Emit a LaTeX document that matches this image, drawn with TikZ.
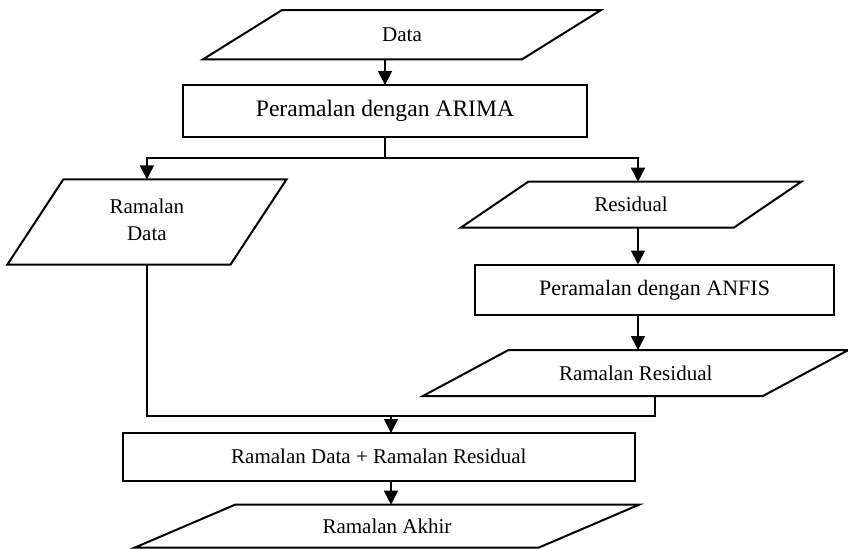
\documentclass[tikz,border=0pt]{standalone}
\usepackage{fontspec}
\setmainfont{Liberation Serif}
\usetikzlibrary{arrows.meta,calc}

% outline of an input/output block: a parallelogram built on the node's box
\newcommand\ioshape[2]{%
  \draw[shapeline] ([xshift=#2]#1.north west) -- ([xshift=#2]#1.north east)
    -- ([xshift=-#2]#1.south east) -- ([xshift=-#2]#1.south west) -- cycle;}

\tikzset{
  base/.style={inner sep=0pt, outer sep=0pt, align=center,
    font=\fontsize{10.5}{13.5}\selectfont},
  procbox/.style={base, draw, line width=1pt},
  iobox/.style={base},
  shapeline/.style={line width=1pt, line join=miter},
  conn/.style={line width=0.85pt},
  arr/.style={conn, -{Triangle[width=7pt,length=7pt]}}
}

\begin{document}
\begin{tikzpicture}[x=0.5pt, y=-0.5pt]
\useasboundingbox (0,0) rectangle (848,548);

% blocks
\node[iobox, minimum width=159.5pt, minimum height=24.65pt] (data) at (402,34.7) {Data};
\node[procbox, minimum width=202.3pt, minimum height=26.15pt,
      font=\fontsize{11.8}{14}\selectfont] (arima) at (385,111.2) {Peramalan dengan ARIMA};
\node[iobox, minimum width=111.6pt, minimum height=42.6pt] (rd) at (146.9,222)
  {\raisebox{3.25pt}{\begin{tabular}{@{}c@{}}Ramalan\\Data\end{tabular}}};
\node[iobox, minimum width=136.5pt, minimum height=23pt] (res) at (631,204.7) {Residual};
\node[procbox, minimum width=179.5pt, minimum height=25.25pt,
      font=\fontsize{11}{13}\selectfont] (anfis) at (654.5,289.75) {Peramalan dengan ANFIS};
\node[iobox, minimum width=170pt, minimum height=23pt] (rr) at (635.7,373) {Ramalan Residual};
\node[procbox, minimum width=256.15pt, minimum height=23.75pt] (sum) at (378.85,456.75) {Ramalan Data + Ramalan Residual};
\node[iobox, minimum width=202pt, minimum height=21.4pt] (akhir) at (387,526.1) {Ramalan Akhir};

\ioshape{data}{19.75pt}
\ioshape{rd}{14pt}
\ioshape{res}{16.9pt}
\ioshape{rr}{21.4pt}
\ioshape{akhir}{25pt}

% junction points of the connectors
\coordinate (split) at (385,158);
\coordinate (colR) at (638,0);
\coordinate (merge) at (391,416);
\coordinate (mergeR) at (655,416);

% connectors
\draw[arr] (data.south -| arima.north) -- (arima.north);
\draw[conn] (arima.south) -- (split);
\draw[arr] (split) -| (rd.north);
\draw[arr] (split) -| (res.north -| colR);
\draw[arr] (res.south -| colR) -- (anfis.north -| colR);
\draw[arr] (anfis.south -| colR) -- (rr.north -| colR);
\draw[conn] (rd.south) |- (mergeR) -- (rr.south -| mergeR);
\draw[arr] (merge) -- (sum.north -| merge);
\draw[arr] (sum.south -| merge) -- (akhir.north -| merge);
\end{tikzpicture}
\end{document}
